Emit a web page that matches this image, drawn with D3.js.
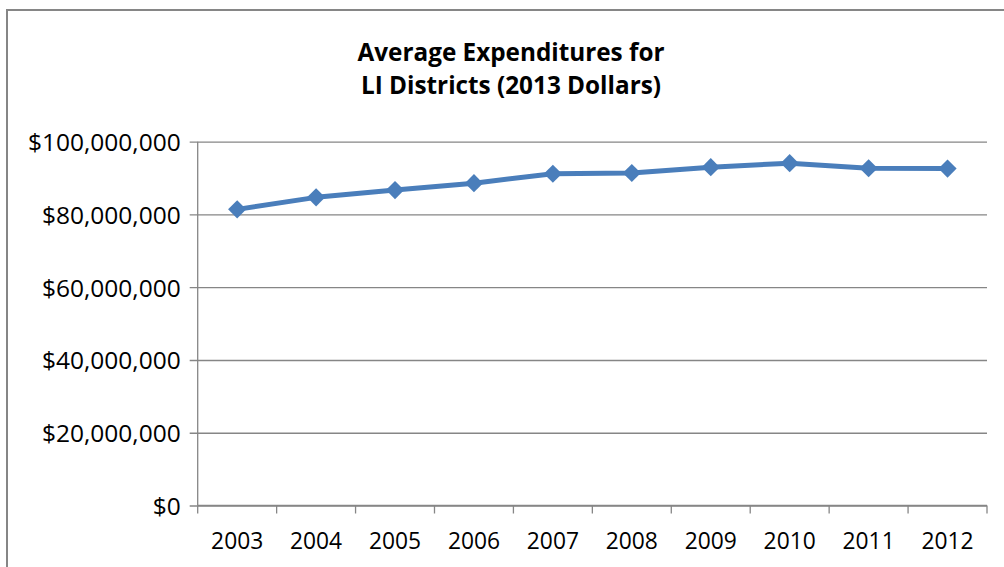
<!DOCTYPE html>
<html>
<head>
<meta charset="utf-8">
<script src="https://cdn.jsdelivr.net/npm/d3@7"></script>
<style>
  html, body { margin: 0; padding: 0; background: #fff; }
  svg { display: block; }
</style>
</head>
<body>
<svg id="chart" width="1004" height="567"></svg>
<script>
// Average expenditures per year, LI districts, in 2013 dollars
const years = ["2003", "2004", "2005", "2006", "2007", "2008", "2009", "2010", "2011", "2012"];
const expenditures = [81400000, 84700000, 86700000, 88600000, 91200000, 91400000, 93000000, 94100000, 92700000, 92600000];
const yTicks = [0, 20000000, 40000000, 60000000, 80000000, 100000000];
const titleLines = ["Average Expenditures for", "LI Districts (2013 Dollars)"];

const svg = d3.select("#chart");
const font = "'Open Sans', 'Noto Sans', sans-serif";
const gridColor = "#868686";
const lineColor = "#4A7EBB";

// Outer chart frame
svg.append("rect")
  .attr("x", 7).attr("y", 10)
  .attr("width", 1020).attr("height", 600)
  .attr("fill", "#fff")
  .attr("stroke", gridColor).attr("stroke-width", 2);

const plot = { left: 197.7, right: 987, top: 141.7, bottom: 505.5 };

const x = d3.scaleBand().domain(years).range([plot.left, plot.right]);
const y = d3.scaleLinear().domain([0, 100000000]).range([plot.bottom, plot.top]);

// Title
svg.append("text")
  .attr("x", 511).attr("y", 61)
  .attr("text-anchor", "middle")
  .attr("font-family", font).attr("font-weight", "bold")
  .attr("font-size", 24.3).attr("fill", "#000")
  .selectAll("tspan").data(titleLines).join("tspan")
  .attr("x", 511).attr("dy", (d, i) => i === 0 ? 0 : 33)
  .text(d => d);

// Horizontal gridlines and value axis
const yAxis = d3.axisLeft(y)
  .tickValues(yTicks)
  .tickSize(-(plot.right - plot.left))
  .tickPadding(17)
  .tickFormat(d => "$" + d3.format(",")(d));

const gy = svg.append("g")
  .attr("transform", `translate(${plot.left},0)`)
  .call(yAxis);
gy.select(".domain").remove();
gy.selectAll(".tick line")
  .attr("x1", -8)
  .attr("stroke", gridColor).attr("stroke-width", 1.3);
gy.selectAll(".tick text")
  .attr("font-family", font).attr("font-size", 24.5).attr("fill", "#000")
  .attr("dy", "0.36em");

// Vertical axis line
svg.append("line")
  .attr("x1", plot.left).attr("x2", plot.left)
  .attr("y1", plot.top).attr("y2", plot.bottom)
  .attr("stroke", gridColor).attr("stroke-width", 1.3);

// Category axis with tick marks at band boundaries
const gx = svg.append("g")
  .attr("transform", `translate(0,${plot.bottom})`);
gx.append("line")
  .attr("x1", plot.left).attr("x2", plot.right)
  .attr("stroke", gridColor).attr("stroke-width", 1.3);
const boundaries = years.map(d => x(d)).concat([plot.right]);
gx.selectAll("line.tick").data(boundaries).join("line")
  .attr("class", "tick")
  .attr("x1", d => d).attr("x2", d => d)
  .attr("y1", 0).attr("y2", 8)
  .attr("stroke", gridColor).attr("stroke-width", 1.3);
gx.selectAll("text").data(years).join("text")
  .attr("x", d => x(d) + x.bandwidth() / 2)
  .attr("y", 43)
  .attr("text-anchor", "middle")
  .attr("font-family", font).attr("font-size", 22.8).attr("fill", "#000")
  .text(d => d);

// Data line
const cx = d => x(d) + x.bandwidth() / 2;
const series = years.map((yr, i) => ({ yr, v: expenditures[i] }));
svg.append("path")
  .datum(series)
  .attr("fill", "none")
  .attr("stroke", lineColor).attr("stroke-width", 5)
  .attr("stroke-linejoin", "round")
  .attr("d", d3.line().x(d => cx(d.yr)).y(d => y(d.v)));

// Diamond markers
svg.selectAll("path.marker").data(series).join("path")
  .attr("class", "marker")
  .attr("transform", d => `translate(${cx(d.yr)},${y(d.v)}) rotate(45)`)
  .attr("d", d3.symbol().type(d3.symbolSquare).size(165))
  .attr("fill", lineColor);
</script>
</body>
</html>
